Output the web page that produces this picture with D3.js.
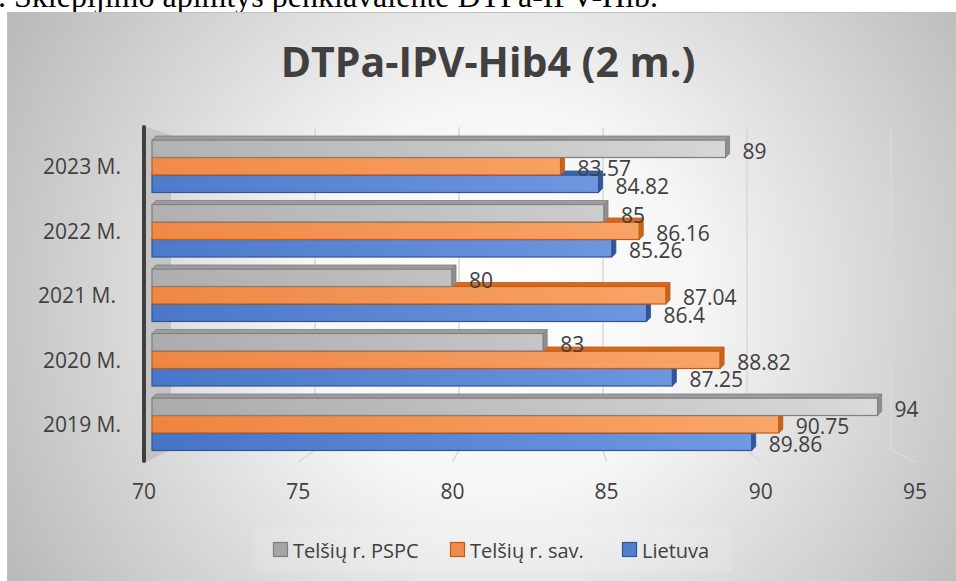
<!DOCTYPE html>
<html>
<head>
<meta charset="utf-8">
<script src="https://cdn.jsdelivr.net/npm/d3@7"></script>
<style>
  body { margin: 0; background: #fff; }
  svg { display: block; }
</style>
</head>
<body>
<div id="chart"></div>
<script>
// Chart data
const years = ['2023 M.', '2022 M.', '2021 M.', '2020 M.', '2019 M.'];
const seriesNames = ['Telšių r. PSPC', 'Telšių r. sav.', 'Lietuva'];
const pspc = [89, 85, 80, 83, 94];
const sav = [83.57, 86.16, 87.04, 88.82, 90.75];
const lietuva = [84.82, 85.26, 86.4, 87.25, 89.86];
const ticks = [70, 75, 80, 85, 90, 95];

const seriesValues = [pspc, sav, lietuva];
const colors = [
    { dark: '#a9a9a9', light: '#e2e2e2', stroke: '#7f7f7f', top: '#9c9c9c', side: '#8f8f8f', key: 'g', swatch: '#a5a5a5' },
    { dark: '#ee8340', light: '#fdb47a', stroke: '#c55a11', top: '#d46a22', side: '#c8621c', key: 'o', swatch: '#f08c4a' },
    { dark: '#4573c6', light: '#85abee', stroke: '#2f5597', top: '#3a63ad', side: '#2f559a', key: 'b', swatch: '#4f7fd0' }
];

const width = 956, height = 581;
const svg = d3.select('#chart').append('svg')
    .attr('width', width)
    .attr('height', height);

const defs = svg.append('defs');
const bg = defs.append('radialGradient').attr('id', 'bg')
    .attr('gradientUnits', 'userSpaceOnUse')
    .attr('cx', 500).attr('cy', 300).attr('r', 560);
bg.append('stop').attr('offset', 0).attr('stop-color', '#ffffff');
bg.append('stop').attr('offset', 0.35).attr('stop-color', '#f6f6f6');
bg.append('stop').attr('offset', 1).attr('stop-color', '#bababa');

colors.forEach(c => {
    const g = defs.append('linearGradient').attr('id', 'grad-' + c.key)
        .attr('gradientUnits', 'userSpaceOnUse')
        .attr('x1', 150).attr('y1', 460).attr('x2', 900).attr('y2', 130);
    g.append('stop').attr('offset', 0).attr('stop-color', c.dark);
    g.append('stop').attr('offset', 1).attr('stop-color', c.light);
});

// caption above the chart (cut off at the top)
svg.append('text')
    .attr('x', -2).attr('y', 7)
    .attr('font-family', '"Liberation Serif", "Times New Roman", serif')
    .attr('font-size', 32)
    .attr('fill', '#000')
    .text('. Skiepijimo apimtys penkiavalente DTPa-IPV-Hib.');

// chart area
svg.append('rect')
    .attr('x', 7.5).attr('y', 12.5)
    .attr('width', 960).attr('height', 580)
    .attr('fill', 'url(#bg)')
    .attr('stroke', '#bfbfbf');

// Title
svg.append('text')
    .attr('x', 488).attr('y', 77)
    .attr('text-anchor', 'middle')
    .attr('font-family', '"Open Sans", sans-serif')
    .attr('font-weight', 'bold')
    .attr('font-size', 41)
    .attr('fill', '#404040')
    .text('DTPa-IPV-Hib4 (2 m.)');

// Scales
const xBar = d3.scaleLinear().domain([70, 95]).range([152, 912]);
const xBack = d3.scaleLinear().domain([70, 95]).range([171, 891]);
const xFront = d3.scaleLinear().domain([70, 95]).range([144, 915]);

const y = d3.scaleBand()
    .domain(years)
    .range([140, 450.5])
    .paddingInner(0.186)
    .paddingOuter(0);

const ySeries = d3.scaleBand()
    .domain(seriesNames)
    .range([0, y.bandwidth()]);

const backTop = 127, backBottom = 450, floorFront = 462;

// gridlines on back wall and floor
const grid = svg.append('g');
ticks.filter(t => t > 70).forEach(t => {
    grid.append('path')
        .attr('d', `M${xBack(t)},${backTop}L${xBack(t)},${backBottom}L${xFront(t)},${floorFront}`)
        .attr('fill', 'none')
        .attr('stroke', '#d9d9d9')
        .attr('stroke-width', 1.5);
});

// left wall
svg.append('path')
    .attr('d', `M146,${backTop}L${xBack(70)},${backTop + 8}L${xBack(70)},${backBottom}L146,${floorFront}Z`)
    .attr('fill', '#c4c4c4');
svg.append('rect')
    .attr('x', 142).attr('y', 125)
    .attr('width', 4).attr('height', floorFront - 124)
    .attr('rx', 2)
    .attr('fill', '#404040');

// bars (drawn bottom to top so upper bars cover lower top faces)
const dx = 4, dy = 4;
const barsG = svg.append('g');
const labelsG = svg.append('g');
for (let i = years.length - 1; i >= 0; i--) {
    for (let s = seriesNames.length - 1; s >= 0; s--) {
        const v = seriesValues[s][i];
        const c = colors[s];
        const x0 = xBar(70), x1 = xBar(v) - dx;
        const y0 = y(years[i]) + ySeries(seriesNames[s]);
        const y1 = y0 + ySeries.bandwidth();
        const g = barsG.append('g');
        g.append('rect')
            .attr('x', x0).attr('y', y0)
            .attr('width', x1 - x0).attr('height', y1 - y0)
            .attr('fill', `url(#grad-${c.key})`)
            .attr('stroke', c.stroke)
            .attr('stroke-width', 1.2);
        g.append('path')
            .attr('d', `M${x0},${y0}L${x0 + dx},${y0 - dy}L${x1 + dx},${y0 - dy}L${x1},${y0}Z`)
            .attr('fill', c.top)
            .attr('stroke', c.stroke)
            .attr('stroke-width', 0.8);
        g.append('path')
            .attr('d', `M${x1},${y0}L${x1 + dx},${y0 - dy}L${x1 + dx},${y1 - dy}L${x1},${y1}Z`)
            .attr('fill', c.side)
            .attr('stroke', c.stroke)
            .attr('stroke-width', 0.8);

        labelsG.append('text')
            .attr('x', xBar(v) + 13)
            .attr('y', (y0 + y1) / 2 + 2)
            .attr('dominant-baseline', 'central')
            .attr('font-family', '"Open Sans", sans-serif')
            .attr('font-size', 21)
            .attr('fill', '#404040')
            .text(v);
    }
}

// category labels
svg.append('g').selectAll('text')
    .data(years)
    .enter()
    .append('text')
    .attr('x', d => d === '2021 M.' ? 116 : 121)
    .attr('y', d => y(d) + y.bandwidth() / 2)
    .attr('text-anchor', 'end')
    .attr('dominant-baseline', 'central')
    .attr('font-family', '"Open Sans", sans-serif')
    .attr('font-size', 21)
    .attr('fill', '#404040')
    .text(d => d);

// x tick labels
svg.append('g').selectAll('text')
    .data(ticks)
    .enter()
    .append('text')
    .attr('x', d => xFront(d))
    .attr('y', 491)
    .attr('text-anchor', 'middle')
    .attr('dominant-baseline', 'central')
    .attr('font-family', '"Open Sans", sans-serif')
    .attr('font-size', 21)
    .attr('fill', '#404040')
    .text(d => d);

// legend
const legend = svg.append('g');
legend.append('rect')
    .attr('x', 255).attr('y', 527)
    .attr('width', 477).attr('height', 45)
    .attr('fill', '#ffffff').attr('opacity', 0.12);
const legendX = [273, 450, 622];
seriesNames.forEach((name, s) => {
    const c = colors[s];
    legend.append('rect')
        .attr('x', legendX[s] + 0.5).attr('y', 542.5)
        .attr('width', 14).attr('height', 14)
        .attr('fill', c.swatch)
        .attr('stroke', c.stroke)
        .attr('stroke-width', 1.2);
    legend.append('text')
        .attr('x', legendX[s] + 20)
        .attr('y', 550)
        .attr('dominant-baseline', 'central')
        .attr('font-family', '"Open Sans", sans-serif')
        .attr('font-size', 20)
        .attr('fill', '#404040')
        .text(name);
});
</script>
</body>
</html>
